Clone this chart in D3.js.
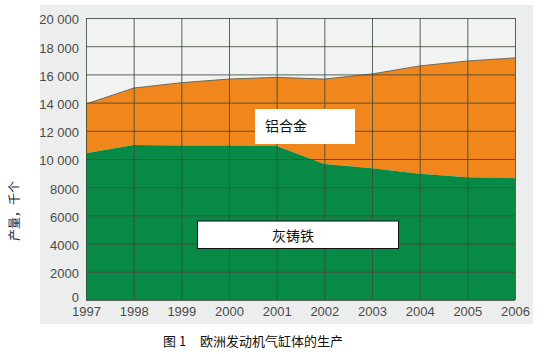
<!DOCTYPE html>
<html>
<head>
<meta charset="utf-8">
<script src="https://cdn.jsdelivr.net/npm/d3@7"></script>
<style>
  html, body { margin: 0; padding: 0; background: #fff; }
  svg { display: block; }
</style>
</head>
<body>
<div id="chart"></div>
<script>
const years = [1997, 1998, 1999, 2000, 2001, 2002, 2003, 2004, 2005, 2006];
const castIron = [10400, 10990, 10960, 10950, 10920, 9640, 9340, 8950, 8700, 8640];
const total = [13900, 15030, 15410, 15670, 15790, 15670, 16030, 16600, 16950, 17170];
const yTicks = [0, 2000, 4000, 6000, 8000, 10000, 12000, 14000, 16000, 18000, 20000];
const seriesNames = ["灰铸铁", "铝合金"];

const width = 550, height = 354;
const plot = { left: 86, right: 515, top: 18, bottom: 300 };
const latin = "'Liberation Sans', Arial, sans-serif";
const cjk = "'Noto Sans CJK SC', sans-serif";

const svg = d3.select("#chart").append("svg")
    .attr("width", width)
    .attr("height", height);

// grey panel behind the chart
svg.append("rect")
    .attr("x", 40).attr("y", 5)
    .attr("width", 493).attr("height", 319)
    .attr("fill", "#eceeee");

const x = d3.scaleLinear()
    .domain([years[0], years[years.length - 1]])
    .range([plot.left, plot.right]);

const y = d3.scaleLinear()
    .domain([0, 20000])
    .range([plot.bottom, plot.top]);

svg.append("rect")
    .attr("x", plot.left).attr("y", plot.top)
    .attr("width", plot.right - plot.left).attr("height", plot.bottom - plot.top)
    .attr("fill", "#f1f2f2");

const rows = years.map((yr, i) => ({ year: yr, iron: castIron[i], total: total[i] }));

// aluminium band (between cast iron and total)
svg.append("path")
    .datum(rows)
    .attr("fill", "#f0861c")
    .attr("d", d3.area()
        .x(d => x(d.year))
        .y0(d => y(d.iron))
        .y1(d => y(d.total)));

// cast iron band
svg.append("path")
    .datum(rows)
    .attr("fill", "#078a45")
    .attr("d", d3.area()
        .x(d => x(d.year))
        .y0(y(0))
        .y1(d => y(d.iron)));

// top outline
svg.append("path")
    .datum(rows)
    .attr("fill", "none")
    .attr("stroke", "#6b6b5c")
    .attr("stroke-width", 1)
    .attr("d", d3.line().x(d => x(d.year)).y(d => y(d.total)));

// grid
svg.append("g")
    .attr("transform", `translate(0, ${plot.bottom})`)
    .call(d3.axisBottom(x).tickValues(years).tickSize(-(plot.bottom - plot.top)).tickFormat(""))
    .call(g => g.select(".domain").remove())
    .call(g => g.selectAll(".tick line").attr("stroke", "#3f4a3c").attr("stroke-opacity", 0.85));

svg.append("g")
    .attr("transform", `translate(${plot.left}, 0)`)
    .call(d3.axisLeft(y).tickValues(yTicks).tickSize(-(plot.right - plot.left)).tickFormat(""))
    .call(g => g.select(".domain").remove())
    .call(g => g.selectAll(".tick line").attr("stroke", "#3f4a3c").attr("stroke-opacity", 0.85));

// y tick labels
const fmt = v => v >= 10000 ? d3.format(",")(v).replace(",", " ") : String(v);
svg.append("g")
    .attr("transform", `translate(${plot.left}, 0)`)
    .call(d3.axisLeft(y).tickValues(yTicks).tickSize(0).tickPadding(7).tickFormat(fmt))
    .call(g => g.select(".domain").remove())
    .call(g => g.selectAll(".tick text")
        .attr("dy", d => d === 0 ? "0.15em" : "0.45em")
        .style("font-family", latin)
        .style("font-size", "13px")
        .style("fill", "#4a4a4a"));

// x tick labels
svg.append("g")
    .attr("transform", `translate(0, ${plot.bottom})`)
    .call(d3.axisBottom(x).tickValues(years).tickSize(0).tickPadding(7).tickFormat(d3.format("d")))
    .call(g => g.select(".domain").remove())
    .call(g => g.selectAll(".tick text")
        .style("font-family", latin)
        .style("font-size", "13px")
        .style("fill", "#4a4a4a"));

// series labels
svg.append("rect")
    .attr("x", 255).attr("y", 109)
    .attr("width", 100).attr("height", 35)
    .attr("fill", "#fff");
svg.append("text")
    .attr("x", 265).attr("y", 131)
    .style("font-family", cjk)
    .style("font-size", "14px")
    .style("fill", "#111")
    .text(seriesNames[1]);

svg.append("rect")
    .attr("x", 197.5).attr("y", 221)
    .attr("width", 201).attr("height", 27.5)
    .attr("fill", "#fff")
    .attr("stroke", "#111")
    .attr("stroke-width", 1);
svg.append("text")
    .attr("x", 293).attr("y", 241)
    .attr("text-anchor", "middle")
    .style("font-family", cjk)
    .style("font-size", "14px")
    .style("fill", "#111")
    .text(seriesNames[0]);

// y axis title
svg.append("text")
    .attr("transform", "translate(19, 211) rotate(-90)")
    .attr("text-anchor", "middle")
    .style("font-family", cjk)
    .style("font-size", "12px")
    .style("fill", "#1a1a3a")
    .text("产量，千个");

// caption
svg.append("text")
    .attr("x", 163).attr("y", 346)
    .style("font-family", cjk)
    .style("font-size", "13px")
    .style("fill", "#111")
    .text("图 1");
svg.append("text")
    .attr("x", 200).attr("y", 346)
    .style("font-family", cjk)
    .style("font-size", "13px")
    .style("fill", "#111")
    .text("欧洲发动机气缸体的生产");
</script>
</body>
</html>
